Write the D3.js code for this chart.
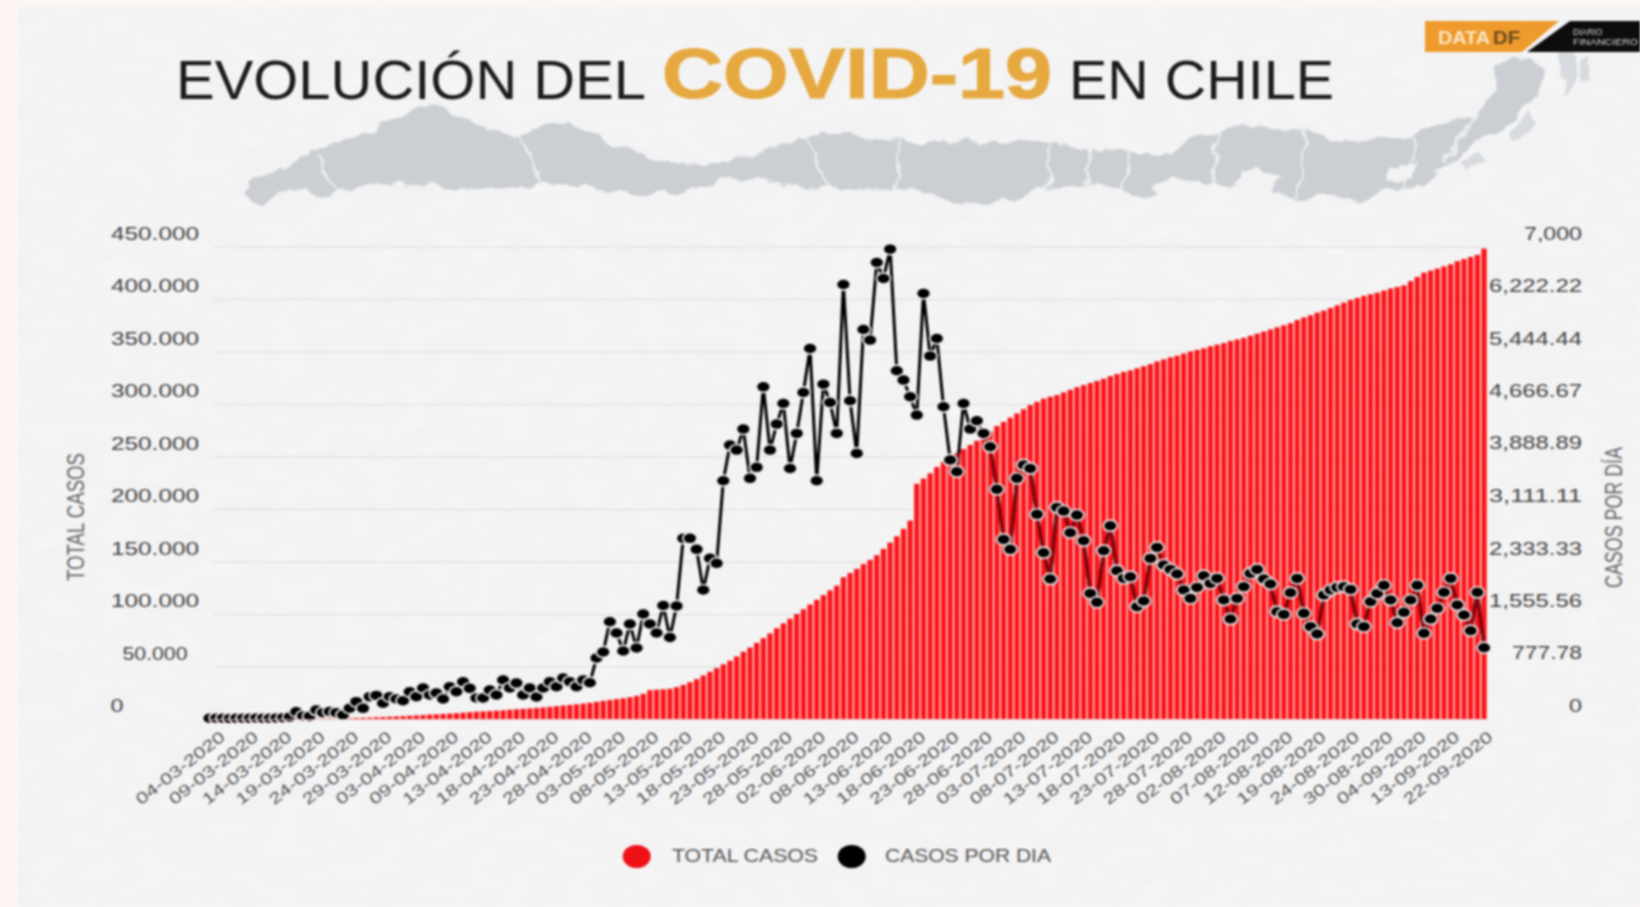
<!DOCTYPE html>
<html><head><meta charset="utf-8">
<script src="https://cdn.jsdelivr.net/npm/d3@7"></script>
<style>html,body{margin:0;padding:0;background:#fdf6f2;overflow:hidden}svg{display:block;filter:blur(0.9px)}</style>
</head><body><svg id="c" width="1640" height="907"></svg>
<script>
const tickLabels=["04-03-2020","09-03-2020","14-03-2020","19-03-2020","24-03-2020","29-03-2020","03-04-2020","09-04-2020","13-04-2020","18-04-2020","23-04-2020","28-04-2020","03-05-2020","08-05-2020","13-05-2020","18-05-2020","23-05-2020","28-05-2020","02-06-2020","08-06-2020","13-06-2020","18-06-2020","23-06-2020","28-06-2020","03-07-2020","08-07-2020","13-07-2020","18-07-2020","23-07-2020","28-07-2020","02-08-2020","07-08-2020","12-08-2020","19-08-2020","24-08-2020","30-08-2020","04-09-2020","13-09-2020","22-09-2020"];
const totalCasos=[1,3,5,7,10,13,17,23,33,43,61,75,156,201,238,274,298,342,434,537,632,746,922,1142,1306,1610,1909,2139,2449,2738,3031,3404,3737,4161,4471,4815,5116,5546,5972,6501,6927,7213,7525,7917,8273,8807,9252,9730,10088,10507,11000,11600,12200,12800,13400,14000,14700,15400,16300,17300,18100,18900,19700,20700,22000,24000,27500,27900,28300,28800,30400,32500,35000,38000,41500,45000,48500,52000,55500,59500,64000,68000,72500,77000,81500,86500,91000,95500,100000,104500,109000,113500,118000,122500,127000,135000,139000,143000,147500,151500,156000,162000,168000,174000,181000,189000,224000,229000,234000,240000,245000,249000,253000,257000,261000,265000,269000,274000,279000,283000,287000,291000,295000,299000,302000,305000,307000,308500,311000,313500,316000,318000,320000,322000,324000,326500,328500,330500,332000,334000,336000,338000,340500,342500,344500,346000,348000,350000,351500,353000,355000,356500,358000,360000,361500,363000,365000,367000,369000,371000,373000,375000,377000,380000,382500,384500,387000,389000,391500,394000,396500,399000,401000,403000,404500,406000,408000,410000,411500,413000,417000,421000,425000,427000,429000,431000,433000,436000,438000,440000,442000,448000];
const casosPorDia=[10,12,10,8,12,10,12,14,10,12,14,18,30,108,44,40,133,94,110,94,59,160,257,158,331,350,234,331,296,271,404,331,459,355,385,296,478,404,552,454,311,311,430,355,578,459,533,355,459,326,459,552,478,607,552,478,578,538,903,992,1441,1274,1007,1407,1051,1555,1407,1274,1681,1207,1674,2676,2676,2513,1910,2380,2306,3530,4058,3984,4295,3565,3728,4921,3984,4369,4675,3712,4231,4838,5490,3530,4961,4690,4231,6438,4714,3935,5771,5613,6763,6526,6961,5159,5021,4773,4502,6305,5376,5638,4625,3836,3663,4675,4295,4418,4231,4033,3402,2661,2513,3565,3762,3712,3032,2463,2073,3135,3080,2760,3021,2641,1861,1728,2493,2863,2197,2083,2108,1664,1747,2379,2542,2281,2216,2147,1910,1787,1950,2123,2009,2083,1762,1481,1787,1960,2157,2216,2073,2000,1590,1550,1871,2083,1565,1368,1259,1836,1910,1950,1960,1920,1407,1368,1738,1861,1980,1762,1427,1580,1762,1980,1269,1481,1639,1876,2083,1688,1540,1308,1876,1056];
const leftTicks=[0,50000,100000,150000,200000,250000,300000,350000,400000,450000];
const leftLabels=["0","50.000","100.000","150.000","200.000","250.000","300.000","350.000","400.000","450.000"];
const rightTicks=[0,777.78,1555.56,2333.33,3111.11,3888.89,4666.67,5444.44,6222.22,7000];
const rightLabels=["0","777.78","1,555.56","2,333.33","3,111.11","3,888.89","4,666.67","5,444.44","6,222.22","7,000"];
const legendItems=[{t:"TOTAL CASOS",c:"#ef1018",cx:636.7,tx:672,w:146},{t:"CASOS POR DIA",c:"#000",cx:851.7,tx:885,w:166}];

const svg=d3.select("#c");
const defs=svg.append("defs");
const noise=defs.append("filter").attr("id","paper").attr("x",0).attr("y",0).attr("width","100%").attr("height","100%");
noise.append("feTurbulence").attr("type","fractalNoise").attr("baseFrequency","0.03 0.05").attr("numOctaves",4).attr("seed",7);
noise.append("feColorMatrix").attr("values","0 0 0 0 1  0 0 0 0 1  0 0 0 0 1  1.6 0 0 0 -0.55");
const rough=defs.append("filter").attr("id","rough").attr("x","-2%").attr("y","-10%").attr("width","104%").attr("height","120%");
rough.append("feTurbulence").attr("type","fractalNoise").attr("baseFrequency","0.045").attr("numOctaves",3).attr("seed",3).attr("result","n");
rough.append("feDisplacementMap").attr("in","SourceGraphic").attr("in2","n").attr("scale",16).attr("xChannelSelector","R").attr("yChannelSelector","G");

// paper background
svg.append("rect").attr("width",1640).attr("height",907).attr("fill","#fdf6f2");
svg.append("rect").attr("x",18).attr("y",7).attr("width",1622).attr("height",900).attr("fill","#f2f2f3");
svg.append("rect").attr("x",18).attr("y",7).attr("width",1622).attr("height",900).attr("filter","url(#paper)").attr("opacity",.35);

// decorative map of Chile
const mapG=svg.append("g").attr("transform","scale(1.046)").attr("filter","url(#rough)");
mapG.append("path").attr("fill","#cbcfd4").attr("d","M232,185L242,172 262,162 285,152 310,140 345,128 372,118 398,100 420,103 445,112 470,127 497,130 520,121 545,118 570,131 600,146 640,155 680,157 720,150 760,133 795,127 840,133 880,135 930,136 980,135 1030,140 1075,147 1110,148 1150,128 1190,120 1240,124 1290,135 1340,131 1385,118 1415,108 1428,90 1432,62 1460,52 1480,70 1470,95 1440,118 1405,138 1380,158 1360,176 1310,186 1288,192 1262,183 1240,192 1205,180 1165,178 1140,172 1095,190 1050,176 1000,180 938,197 895,190 860,180 800,181 750,176 705,170 640,186 600,185 540,175 480,181 430,180 365,174 310,186 280,180 252,197Z");
mapG.selectAll(".isl").data(["M1290,180l18,-6 6,10 -16,8Z","M1395,155l20,-10 8,8 -20,14Z","M1440,125l22,-16 8,10 -22,18Z","M1490,48l14,-4 4,30 -14,20Z","M1510,60l12,-8 0,22 -10,8Z"]).join("path").attr("fill","#cbcfd4").attr("opacity",.7).attr("d",d=>d);
mapG.selectAll(".hole").data(["M1180,178L1200,160 1225,168 1215,184Z","M1100,178l24,-12 14,8 -24,16Z","M1330,160l26,-6 -8,16 -20,4Z"]).join("path").attr("fill","#f2f2f3").attr("d",d=>d);
mapG.selectAll(".bd").data(["M305,148L322,185","M497,130L520,178","M770,130L790,180","M860,135L855,180","M1003,138L1000,180","M1043,140L1040,176","M1080,148L1072,186","M1165,125L1158,178","M1248,125L1240,190","M1352,130L1340,182","M1420,100L1380,155"]).join("path").attr("fill","none").attr("stroke","#f2f3f5").attr("stroke-width",2).attr("d",d=>d);

// title
const title=svg.append("g").attr("font-family","'Liberation Sans',Arial,sans-serif");
title.append("text").attr("x",176).attr("y",99).attr("font-size",56).attr("fill","#1c1c1c").attr("textLength",470).attr("lengthAdjust","spacingAndGlyphs").text("EVOLUCIÓN DEL");
title.append("text").attr("x",662).attr("y",98).attr("font-size",71).attr("font-weight","bold").attr("fill","#e6a93f").attr("stroke","#e6a93f").attr("stroke-width",1.2).attr("textLength",390).attr("lengthAdjust","spacingAndGlyphs").text("COVID-19");
title.append("text").attr("x",1069).attr("y",99).attr("font-size",56).attr("fill","#1c1c1c").attr("textLength",265).attr("lengthAdjust","spacingAndGlyphs").text("EN CHILE");

// logo
const logo=svg.append("g").attr("font-family","'Liberation Sans',Arial,sans-serif");
logo.append("path").attr("fill","#ee9a2c").attr("d","M1425,21H1559L1522,52H1425Z");
logo.append("path").attr("fill","#0d0d0d").attr("d","M1527,52L1570,21H1640V52Z");
logo.append("text").attr("x",1438).attr("y",44).attr("font-size",19).attr("font-weight","bold").attr("fill","#fbe6c6").attr("textLength",52).attr("lengthAdjust","spacingAndGlyphs").text("DATA");
logo.append("text").attr("x",1493).attr("y",44).attr("font-size",19).attr("font-weight","bold").attr("fill","#6a4a1c").attr("textLength",27).attr("lengthAdjust","spacingAndGlyphs").text("DF");
logo.append("text").attr("x",1573).attr("y",35).attr("font-size",8.5).attr("fill","#ddd").text("DIARIO");
logo.append("text").attr("x",1573).attr("y",45).attr("font-size",8.5).attr("fill","#ddd").attr("textLength",65).attr("lengthAdjust","spacingAndGlyphs").text("FINANCIERO");

// scales
const plot={left:214,right:1487,top:246.5,bottom:719};
const idx=d3.range(casosPorDia.length);
const x=d3.scalePoint().domain(idx).range([209.5,1484]);
const yL=d3.scaleLinear().domain([0,450000]).range([plot.bottom,plot.top]);
const yR=d3.scaleLinear().domain([0,7000]).range([plot.bottom,plot.top]);
const step=x.step(),barW=step*0.8;

// left axis
const axL=svg.append("g").attr("transform",`translate(${plot.left},0)`)
 .call(d3.axisLeft(yL).tickValues(leftTicks).tickSize(-(plot.right-plot.left)).tickFormat((d,i)=>leftLabels[i]));
axL.select(".domain").remove();
axL.selectAll(".tick line").attr("stroke","#dcdcdc").attr("stroke-width",1);
axL.selectAll(".tick text").attr("font-family","'Liberation Sans',Arial,sans-serif").attr("font-size",19).attr("fill","#444")
 .attr("text-anchor","middle").attr("x",155-plot.left).attr("dy",-7.5)
 .attr("lengthAdjust","spacingAndGlyphs").attr("textLength",d=>d===0?13:d===50000?65:88)
 .filter(d=>d===0).attr("x",117-plot.left);

// right axis
const axR=svg.append("g").attr("transform",`translate(${plot.right},0)`)
 .call(d3.axisRight(yR).tickValues(rightTicks).tickSize(0).tickFormat((d,i)=>rightLabels[i]));
axR.select(".domain").remove();
axR.selectAll(".tick text").attr("font-family","'Liberation Sans',Arial,sans-serif").attr("font-size",18.5).attr("fill","#444")
 .attr("text-anchor","end").attr("x",1582-plot.right).attr("dy",-7.5)
 .attr("lengthAdjust","spacingAndGlyphs").attr("textLength",(d,i)=>[13,70,93,93,93,93,93,93,93,58][i]);

// bars
const barX=(d,i)=>x(i)-barW/2, barY=d=>yL(d), barH=d=>plot.bottom-yL(d);
svg.append("g").selectAll("rect").data(totalCasos).join("rect")
 .attr("x",barX).attr("width",barW).attr("y",barY).attr("height",barH).attr("fill","#fb1418");
defs.append("clipPath").attr("id","onBars").selectAll("rect").data(totalCasos).join("rect")
 .attr("x",(d,i)=>x(i)-step/2).attr("width",step+.5).attr("y",barY).attr("height",barH);

// line + dots
const line=d3.line().x((d,i)=>x(i)).y(d=>yR(d));
svg.append("path").datum(casosPorDia).attr("d",line).attr("fill","none").attr("stroke","#000").attr("stroke-width",3);
svg.append("g").attr("clip-path","url(#onBars)").append("path").datum(casosPorDia).attr("d",line).attr("fill","none").attr("stroke","#7a0610").attr("stroke-width",3.4);
svg.append("g").selectAll("ellipse").data(casosPorDia).join("ellipse")
 .attr("cx",(d,i)=>x(i)).attr("cy",d=>yR(d)).attr("rx",7).attr("ry",5.6)
 .attr("fill","#000").attr("stroke","#f7f1f1").attr("stroke-width",1.7);

// x axis
const ax=svg.append("g").attr("transform",`translate(-1,${plot.bottom})`)
 .call(d3.axisBottom(x).tickValues(tickLabels.map((d,i)=>i*5)).tickSize(0).tickFormat(d=>tickLabels[d/5]));
ax.select(".domain").attr("stroke","#e9c9c9").attr("stroke-width",1);
ax.selectAll(".tick text").attr("font-family","'Liberation Sans',Arial,sans-serif").attr("font-size",16).attr("fill","#555")
 .attr("text-anchor","end").attr("x",0).attr("y",0).attr("dy",0)
 .attr("lengthAdjust","spacingAndGlyphs").attr("textLength",108)
 .attr("transform","translate(17,20) rotate(-38)");

// axis titles
const t2=svg.append("g").attr("font-family","'Liberation Sans',Arial,sans-serif").attr("fill","#666");
t2.append("text").attr("transform","translate(84,581) rotate(-90)").attr("font-size",23).attr("textLength",128).attr("lengthAdjust","spacingAndGlyphs").text("TOTAL CASOS");
t2.append("text").attr("transform","translate(1622,588) rotate(-90)").attr("font-size",23).attr("textLength",141).attr("lengthAdjust","spacingAndGlyphs").text("CASOS POR DÍA");

// legend
const lg=svg.append("g").attr("font-family","'Liberation Sans',Arial,sans-serif");
lg.selectAll("ellipse").data(legendItems).join("ellipse").attr("cx",d=>d.cx).attr("cy",856.5).attr("rx",14).attr("ry",11.5).attr("fill",d=>d.c);
lg.selectAll("text").data(legendItems).join("text").attr("x",d=>d.tx).attr("y",862).attr("font-size",19).attr("fill","#555")
 .attr("textLength",d=>d.w).attr("lengthAdjust","spacingAndGlyphs").text(d=>d.t);
</script></body></html>
